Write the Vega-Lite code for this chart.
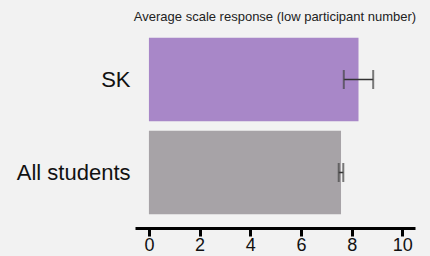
{
  "$schema": "https://vega.github.io/schema/vega-lite/v6.json",
  "autosize": "none",
  "width": 280,
  "height": 186,
  "padding": {"left": 135, "top": 33, "right": 15, "bottom": 37},
  "background": "#f2f2f2",
  "title": {"text": "Average scale response (low participant number)", "font": "Liberation Sans", "fontSize": 13, "fontWeight": "normal", "color": "#222222", "anchor": "middle", "offset": 9},
  "config": {"view": {"stroke": null}, "font": "Liberation Sans"},
  "data": {"values": [
    {"group": "SK", "mean": 8.27, "lo": 7.69, "hi": 8.85},
    {"group": "All students", "mean": 7.58, "lo": 7.49, "hi": 7.67}
  ]},
  "encoding": {
    "y": {"field": "group", "type": "nominal", "sort": ["SK", "All students"], "title": null,
      "scale": {"paddingInner": 0.1, "paddingOuter": 0.05},
      "axis": {"domain": false, "ticks": false, "labelFontSize": 22, "labelColor": "#111111", "labelPadding": 5, "labelFont": "Liberation Sans"}}
  },
  "layer": [
    {"mark": {"type": "bar"},
     "encoding": {
       "x": {"field": "mean", "type": "quantitative", "title": null,
         "scale": {"domain": [-0.55, 10.5], "nice": false, "zero": false},
         "axis": {"values": [0, 2, 4, 6, 8, 10], "grid": false, "domainColor": "#000000", "domainWidth": 3, "tickColor": "#000000", "tickWidth": 3, "tickSize": 8, "labelFontSize": 18, "labelColor": "#111111", "labelPadding": 0, "offset": 9, "labelFont": "Liberation Sans"}},
       "x2": {"datum": 0},
       "color": {"field": "group", "type": "nominal", "legend": null,
         "scale": {"domain": ["SK", "All students"], "range": ["#a887c8", "#a7a3a7"]}}
     }},
    {"mark": {"type": "rule", "color": "#333333", "strokeWidth": 1.5},
     "encoding": {"x": {"field": "lo", "type": "quantitative"}, "x2": {"field": "hi"}}},
    {"mark": {"type": "tick", "color": "#444444", "thickness": 2, "size": 19},
     "encoding": {"x": {"field": "lo", "type": "quantitative"}}},
    {"mark": {"type": "tick", "color": "#444444", "thickness": 2, "size": 19},
     "encoding": {"x": {"field": "hi", "type": "quantitative"}}}
  ]
}
